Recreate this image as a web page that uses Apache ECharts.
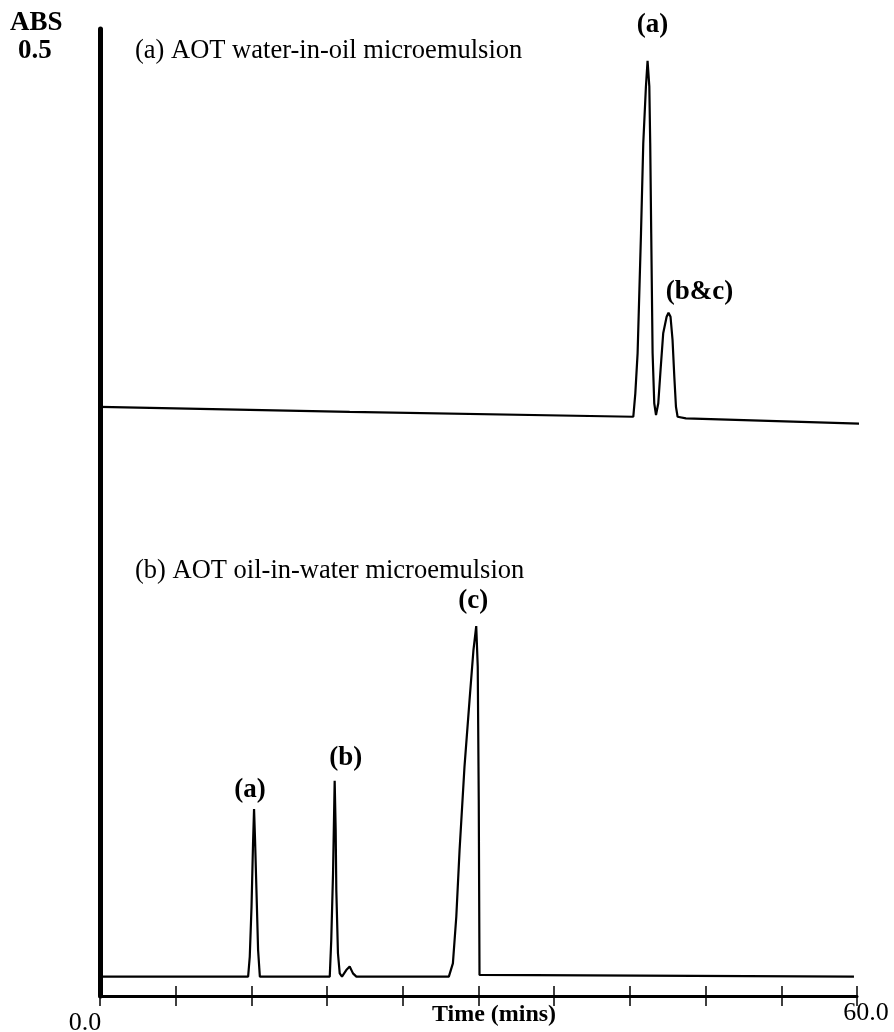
<!DOCTYPE html>
<html>
<head>
<meta charset="utf-8">
<title>AOT microemulsion chromatograms</title>
<script src="https://cdn.jsdelivr.net/npm/echarts@6/dist/echarts.min.js"></script>
<style>
  html, body { margin: 0; padding: 0; background: #fff; }
  #chart { width: 894px; height: 1032px; }
</style>
</head>
<body>
<div id="chart"></div>
<script>
// Detector trace (a): AOT water-in-oil microemulsion, [time (min), absorbance]
const traceWaterInOil = [
  [0.00, 0.3046], [19.79, 0.3020], [42.27, 0.2995], [42.43, 0.3116],
  [42.61, 0.3323], [42.88, 0.3944], [43.06, 0.4409], [43.27, 0.4702],
  [43.40, 0.4836], [43.54, 0.4702], [43.61, 0.4409], [43.69, 0.3944],
  [43.80, 0.3323], [43.93, 0.3065], [44.07, 0.3004], [44.25, 0.3065],
  [44.43, 0.3237], [44.64, 0.3427], [44.91, 0.3512], [45.06, 0.3533],
  [45.22, 0.3512], [45.38, 0.3392], [45.52, 0.3202], [45.65, 0.3047],
  [45.78, 0.2995], [46.44, 0.2987], [60.95, 0.2958]
];

// Detector trace (b): AOT oil-in-water microemulsion, [time (min), absorbance]
const traceOilInWater = [
  [0.00, 0.0100], [11.74, 0.0100], [11.87, 0.0203], [12.01, 0.0462],
  [12.13, 0.0790], [12.21, 0.0967], [12.29, 0.0807], [12.40, 0.0548],
  [12.53, 0.0238], [12.67, 0.0100], [18.21, 0.0100], [18.33, 0.0290],
  [18.47, 0.0634], [18.60, 0.1113], [18.68, 0.0858], [18.73, 0.0548],
  [18.86, 0.0221], [19.00, 0.0117], [19.18, 0.0100], [19.52, 0.0134],
  [19.79, 0.0152], [20.05, 0.0117], [20.32, 0.0100], [27.65, 0.0100],
  [27.97, 0.0169], [28.24, 0.0410], [28.50, 0.0755], [28.89, 0.1186],
  [29.29, 0.1530], [29.60, 0.1789], [29.82, 0.1913], [29.94, 0.1703],
  [30.02, 0.1013], [30.08, 0.0109], [59.76, 0.0100]
];

// Peak identities and retention times (min)
const peaksWaterInOil = [
  { label: '(a)', time: 43.40 },
  { label: '(b&c)', time: 45.06 }
];
const peaksOilInWater = [
  { label: '(a)', time: 12.21 },
  { label: '(b)', time: 18.60 },
  { label: '(c)', time: 29.82 }
];

// Axis text
const timeTickLabels = { start: '0.0', end: '60.0' };
const timeAxisTitle = 'Time (mins)';
const absUnit = 'ABS';
const absScaleLabel = '0.5';
const traceTitles = ['(a) AOT water-in-oil microemulsion', '(b) AOT oil-in-water microemulsion'];

// Label placement relative to each peak apex, in pixels
const peakLabelOffsets = {
  waterInOil: [[5, -36], [31, -21]],
  oilInWater: [[-4, -19], [11, -23], [-3, -25]]
};

const SERIF = '"Liberation Serif", "Times New Roman", Times, serif';

// Apex of a trace near a given retention time
function apex(trace, time) {
  let best = null;
  trace.forEach(p => {
    if (Math.abs(p[0] - time) <= 0.3 && (!best || p[1] > best[1])) best = p;
  });
  return best;
}

function peakMarks(trace, peaks, offsets) {
  return peaks.map((pk, i) => ({
    coord: apex(trace, pk.time),
    value: pk.label,
    label: { offset: offsets[i] }
  }));
}

const markStyle = {
  symbol: 'circle',
  symbolSize: 1,
  itemStyle: { color: 'rgba(0,0,0,0)' },
  label: {
    show: true,
    position: 'inside',
    formatter: p => p.value,
    color: '#000',
    fontFamily: SERIF,
    fontWeight: 'bold',
    fontSize: 27
  }
};

const chart = echarts.init(document.getElementById('chart'), null, { renderer: 'canvas' });

const xCommon = { type: 'value', min: 0, max: 60, interval: 6, splitLine: { show: false } };

chart.setOption({
  animation: false,
  backgroundColor: '#fff',
  grid: { left: 100, right: 37, top: 29, bottom: 36, containLabel: false, outerBoundsMode: 'none' },
  xAxis: [
    Object.assign({}, xCommon, {
      position: 'bottom',
      axisLine: { show: true, lineStyle: { color: '#000', width: 3 } },
      axisTick: { show: true, inside: false, length: 10, lineStyle: { color: '#000', width: 1.5 } },
      axisLabel: {
        show: true,
        margin: 4,
        formatter: v => v === 0 ? '{lo|' + timeTickLabels.start + '}' : (v === 60 ? '{hi|' + timeTickLabels.end + '}' : ''),
        rich: {
          lo: { fontFamily: SERIF, fontSize: 26, color: '#000', padding: [10, 30, 0, 0] },
          hi: { fontFamily: SERIF, fontSize: 26, color: '#000', padding: [0, 0, 0, 18] }
        }
      },
      name: timeAxisTitle,
      nameLocation: 'middle',
      nameGap: 7,
      nameMoveOverlap: false,
      nameTextStyle: {
        fontFamily: SERIF, fontSize: 24, fontWeight: 'bold', color: '#000',
        verticalAlign: 'top', padding: [0, 0, 0, 31]
      }
    }),
    Object.assign({}, xCommon, {
      position: 'bottom',
      axisLine: { show: false },
      axisTick: { show: true, inside: true, length: 10, lineStyle: { color: '#000', width: 1.5 } },
      axisLabel: { show: false }
    })
  ],
  yAxis: {
    type: 'value',
    min: 0,
    max: 0.5,
    axisLine: { show: true, lineStyle: { color: '#000', width: 5 } },
    axisTick: { show: false },
    axisLabel: { show: false },
    splitLine: { show: false }
  },
  series: [
    {
      name: traceTitles[0],
      type: 'line',
      data: traceWaterInOil,
      clip: false,
      showSymbol: false,
      lineStyle: { color: '#000', width: 2.2 },
      markPoint: Object.assign({}, markStyle, {
        data: peakMarks(traceWaterInOil, peaksWaterInOil, peakLabelOffsets.waterInOil)
      })
    },
    {
      name: traceTitles[1],
      type: 'line',
      data: traceOilInWater,
      clip: false,
      showSymbol: false,
      lineStyle: { color: '#000', width: 2.2 },
      markPoint: Object.assign({}, markStyle, {
        data: peakMarks(traceOilInWater, peaksOilInWater, peakLabelOffsets.oilInWater)
      })
    }
  ],
  graphic: [
    { type: 'text', left: 10, top: 10,
      style: { text: absUnit, font: 'bold 27px ' + SERIF, fill: '#000' } },
    { type: 'text', left: 18, top: 38,
      style: { text: absScaleLabel, font: 'bold 27px ' + SERIF, fill: '#000' } },
    { type: 'text', left: 135, top: 38,
      style: { text: traceTitles[0], font: '26.5px ' + SERIF, fill: '#000' } },
    { type: 'text', left: 135, top: 558,
      style: { text: traceTitles[1], font: '26.5px ' + SERIF, fill: '#000' } }
  ]
});
</script>
</body>
</html>
